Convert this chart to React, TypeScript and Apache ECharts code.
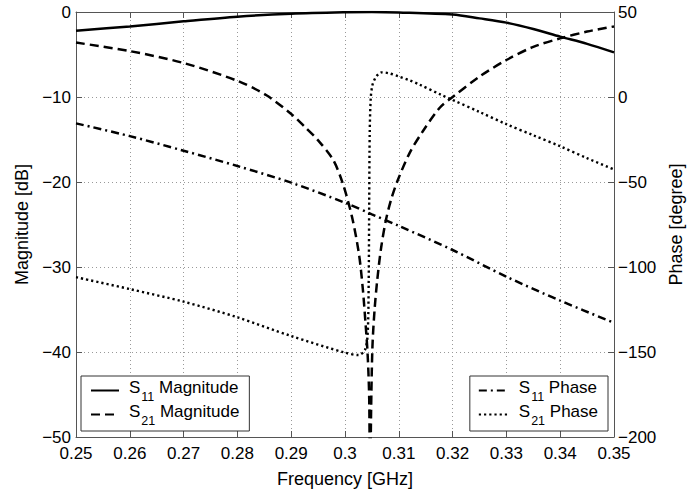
import React, { useEffect, useRef } from 'react';
import * as echarts from 'echarts';

const FONT = '"Liberation Sans", Arial, Helvetica, sans-serif';

// Axis ranges / ticks
const freqMin = 0.25;
const freqMax = 0.35;
const freqStep = 0.01;
const magMin = -50;
const magMax = 0;
const magStep = 10;
const phaseMin = -200;
const phaseMax = 50;
const phaseStep = 50;

// S11 magnitude (dB)
const s11MagFreq = [0.25, 0.26, 0.27, 0.28, 0.29, 0.3, 0.305, 0.31, 0.32, 0.325, 0.33, 0.335, 0.34, 0.345, 0.35];
const s11MagDb = [-2.2, -1.7, -1.1, -0.55, -0.2, -0.03, 0, -0.05, -0.3, -0.75, -1.25, -2.0, -2.9, -3.75, -4.75];

// S21 magnitude (dB)
const s21MagFreq = [
  0.25, 0.26, 0.27, 0.28, 0.2854, 0.29, 0.2925, 0.295, 0.2978, 0.2996, 0.3013, 0.3026, 0.3033, 0.3038,
  0.3042, 0.3045, 0.30465, 0.30485, 0.3051, 0.3055, 0.306, 0.3067, 0.3076, 0.3086, 0.3098, 0.312, 0.3145,
  0.3177, 0.32, 0.325, 0.33, 0.335, 0.34, 0.345, 0.35,
];
const s21MagDb = [
  -3.6, -4.6, -6.0, -8.1, -9.8, -12.0, -13.5, -15.1, -17.4, -20.2, -24.1, -28.5, -32.5, -36.5,
  -40.2, -45.5, -58, -47, -39.4, -35, -31.5, -27.8, -24.5, -22, -19.8, -16.6, -14.0,
  -11.2, -10.0, -7.6, -5.65, -4.1, -3.1, -2.3, -1.7,
];

// S11 phase (degree)
const s11PhaseFreq = [0.25, 0.26, 0.27, 0.28, 0.29, 0.3, 0.305, 0.31, 0.32, 0.33, 0.34, 0.35];
const s11PhaseDeg = [-15.5, -23, -31.6, -40.6, -50.4, -62.2, -69, -75.8, -90, -105.7, -119.8, -132.8];

// S21 phase (degree)
const s21PhaseFreq = [
  0.25, 0.26, 0.27, 0.28, 0.29, 0.3, 0.3025, 0.3037, 0.3042, 0.3044, 0.3045, 0.3046, 0.3048, 0.3051,
  0.3056, 0.3062, 0.3068, 0.3081, 0.31, 0.312, 0.3137, 0.3178, 0.32, 0.325, 0.33, 0.335, 0.34, 0.345, 0.35,
];
const s21PhaseDeg = [
  -106, -113, -120.4, -129.6, -140.6, -150.4, -151.8, -148.8, -140, -110, -60, -20, 0, 7,
  11, 13.5, 14.5, 14.0, 12.1, 9.8, 7.5, 1.4, -1.7, -8.8, -16, -22.5, -29, -36, -42.6,
];

const seriesNames = ['S11 Magnitude', 'S21 Magnitude', 'S11 Phase', 'S21 Phase'];

const zip = (xs: number[], ys: number[]) => xs.map((x, i) => [x, ys[i]]);
const minus = (v: number) => String(v).replace('-', '\u2212');

const legendFormatter = (name: string) => {
  const idx = name.slice(1, 3);
  const rest = name.slice(4);
  return `{s|S}{sub|${idx}}{m| ${rest}}`;
};

const legendRich = {
  s: { fontSize: 17, fontFamily: FONT, color: '#000', padding: [0, 0, 6, 5] },
  sub: { fontSize: 12.5, fontFamily: FONT, color: '#000', padding: [12, 0, 0, 1] },
  m: { fontSize: 17, fontFamily: FONT, color: '#000', padding: [0, 0, 6, 0] },
};

const axisLineStyle = { color: '#555', width: 1 };
const gridLineStyle = { color: '#999', width: 1, type: [1, 3] as number[] };
const hiddenSymbol = { color: 'transparent', borderColor: 'transparent', borderWidth: 0, opacity: 0 };
const nameStyle = { fontSize: 18, color: '#000', fontFamily: FONT };

export default function App() {
  const ref = useRef<HTMLDivElement>(null);

  useEffect(() => {
    if (!ref.current) return;
    const chart = echarts.init(ref.current, undefined, { renderer: 'svg' });
    const lineBase = { type: 'line', symbol: 'none', showSymbol: false, clip: true, smooth: 0.3 };
    const legendBase = {
      orient: 'vertical',
      top: 376,
      itemHeight: 14,
      itemGap: 0,
      borderColor: '#333',
      borderWidth: 1,
      borderRadius: 0,
      backgroundColor: '#fff',
      formatter: legendFormatter,
      itemStyle: hiddenSymbol,
      textStyle: { fontSize: 17, fontFamily: FONT, color: '#000', rich: legendRich },
    };
    chart.setOption({
      animation: false,
      backgroundColor: '#fff',
      grid: { left: 76, right: 73, top: 12, bottom: 54, outerBoundsMode: 'none' },
      xAxis: [
        {
          type: 'value',
          min: freqMin,
          max: freqMax,
          interval: freqStep,
          position: 'bottom',
          name: 'Frequency [GHz]',
          nameLocation: 'middle',
          nameGap: 33,
          nameTextStyle: nameStyle,
          axisLine: { show: true, onZero: false, lineStyle: axisLineStyle },
          axisTick: { show: true, inside: true, length: 6, lineStyle: axisLineStyle },
          axisLabel: { fontSize: 17, color: '#000', fontFamily: FONT, margin: 8, showMinLabel: true, showMaxLabel: true },
          splitLine: { show: true, lineStyle: gridLineStyle },
        },
        {
          type: 'value',
          min: freqMin,
          max: freqMax,
          interval: freqStep,
          position: 'top',
          axisLine: { show: true, onZero: false, lineStyle: axisLineStyle },
          axisTick: { show: true, inside: true, length: 6, lineStyle: axisLineStyle },
          axisLabel: { show: false },
          splitLine: { show: false },
        },
      ],
      yAxis: [
        {
          type: 'value',
          min: magMin,
          max: magMax,
          interval: magStep,
          position: 'left',
          name: 'Magnitude [dB]',
          nameLocation: 'middle',
          nameRotate: 90,
          nameGap: 43,
          nameTextStyle: nameStyle,
          axisLine: { show: true, onZero: false, lineStyle: axisLineStyle },
          axisTick: { show: true, inside: true, length: 6, lineStyle: axisLineStyle },
          axisLabel: { fontSize: 17, color: '#000', fontFamily: FONT, margin: 5, formatter: minus },
          splitLine: { show: true, lineStyle: gridLineStyle },
        },
        {
          type: 'value',
          min: phaseMin,
          max: phaseMax,
          interval: phaseStep,
          position: 'right',
          name: 'Phase [degree]',
          nameLocation: 'middle',
          nameRotate: 90,
          nameGap: 44,
          nameTextStyle: nameStyle,
          axisLine: { show: true, onZero: false, lineStyle: axisLineStyle },
          axisTick: { show: true, inside: true, length: 6, lineStyle: axisLineStyle },
          axisLabel: { fontSize: 17, color: '#000', fontFamily: FONT, margin: 4, formatter: minus },
          splitLine: { show: false },
        },
      ],
      legend: [
        {
          ...legendBase,
          data: [seriesNames[0], seriesNames[1]],
          left: 81,
          itemWidth: 28,
          padding: [3, 10, 4, 9],
        },
        {
          ...legendBase,
          data: [seriesNames[2], seriesNames[3]],
          right: 79,
          itemWidth: 30,
          padding: [3, 10, 4, 8],
        },
      ],
      series: [
        {
          ...lineBase,
          name: seriesNames[0],
          xAxisIndex: 0,
          yAxisIndex: 0,
          data: zip(s11MagFreq, s11MagDb),
          itemStyle: { color: '#000' },
          lineStyle: { color: '#000', width: 2.5, type: 'solid' },
        },
        {
          ...lineBase,
          name: seriesNames[1],
          xAxisIndex: 0,
          yAxisIndex: 0,
          data: zip(s21MagFreq, s21MagDb),
          itemStyle: { color: '#000' },
          lineStyle: { color: '#000', width: 2.5, type: [9, 5] },
        },
        {
          ...lineBase,
          name: seriesNames[2],
          xAxisIndex: 0,
          yAxisIndex: 1,
          data: zip(s11PhaseFreq, s11PhaseDeg),
          itemStyle: { color: '#000' },
          lineStyle: { color: '#000', width: 2.5, type: [8, 4, 2, 4] },
        },
        {
          ...lineBase,
          name: seriesNames[3],
          xAxisIndex: 0,
          yAxisIndex: 1,
          data: zip(s21PhaseFreq, s21PhaseDeg),
          itemStyle: { color: '#000' },
          lineStyle: { color: '#000', width: 2.4, type: [2.2, 3] },
        },
      ],
    });
    return () => chart.dispose();
  }, []);

  return (
    <div
      ref={ref}
      style={{ position: 'fixed', left: 0, top: 0, width: 687, height: 491, background: '#fff' }}
    />
  );
}
